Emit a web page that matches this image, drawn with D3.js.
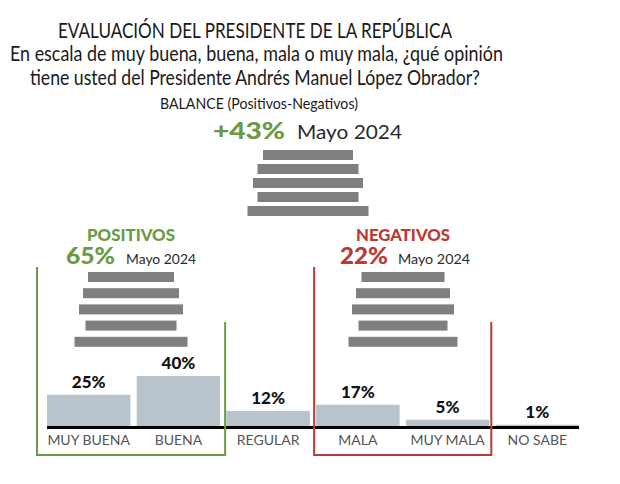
<!DOCTYPE html>
<html><head><meta charset="utf-8">
<script src="https://cdn.jsdelivr.net/npm/d3@7"></script>
<style>body{margin:0;background:#fff}svg{display:block}text{font-family:Lato,"Noto Sans",sans-serif}</style>
</head><body><div id="chart"></div>
<script>
const categories = ["MUY BUENA","BUENA","REGULAR","MALA","MUY MALA","NO SABE"];
const values = [25,40,12,17,5,1];
const valueLabels = ["25%","40%","12%","17%","5%","1%"];
const titleLines = ["EVALUACIÓN DEL PRESIDENTE DE LA REPÚBLICA",
  "En escala de muy buena, buena, mala o muy mala, ¿qué opinión",
  "tiene usted del Presidente Andrés Manuel López Obrador?"];
const balanceTitle = "BALANCE (Positivos-Negativos)";
const period = "Mayo 2024";
const balance = "+43%", positives = "65%", negatives = "22%";

const W=620,H=484;
const green="#6a9a44", red="#bb3a32", barCol="#b9c3cc", stairCol="#7f7f7f";
const svg=d3.select("#chart").append("svg").attr("width",W).attr("height",H);

// Titles
const tl=[{t:titleLines[0],y:38,x:255,len:394,s:21},{t:titleLines[1],y:61,x:256.5,len:493,s:21},{t:titleLines[2],y:85,x:255,len:450,s:21}];
tl.forEach(d=>svg.append("text").attr("x",d.x).attr("y",d.y).attr("text-anchor","middle")
  .attr("font-size",d.s).attr("fill","#1a1a1a").attr("textLength",d.len).attr("lengthAdjust","spacingAndGlyphs").text(d.t));
svg.append("text").attr("x",259).attr("y",109).attr("text-anchor","middle").attr("font-size",15)
  .attr("fill","#1a1a1a").attr("textLength",198).attr("lengthAdjust","spacingAndGlyphs").text(balanceTitle);

// headline numbers
function headline(x,y,num,numLen,size,col,px,pLen,pSize){
  svg.append("text").attr("x",x).attr("y",y).attr("font-size",size).attr("font-weight",900).attr("fill",col)
    .attr("textLength",numLen).attr("lengthAdjust","spacingAndGlyphs").text(num);
  svg.append("text").attr("x",px).attr("y",y).attr("font-size",pSize).attr("fill","#2a2a2a")
    .attr("textLength",pLen).attr("lengthAdjust","spacingAndGlyphs").text(period);
}
headline(213,139,balance,72,22,green,297,105,20);
headline(66,264,positives,49,22,green,126,70,14);
headline(340,264,negatives,48,22,red,398,72,14);

svg.append("text").attr("x",131).attr("y",241).attr("text-anchor","middle").attr("font-size",16).attr("font-weight",900)
  .attr("fill",green).attr("textLength",88).attr("lengthAdjust","spacingAndGlyphs").text("POSITIVOS");
svg.append("text").attr("x",403).attr("y",241).attr("text-anchor","middle").attr("font-size",16).attr("font-weight",900)
  .attr("fill",red).attr("textLength",94).attr("lengthAdjust","spacingAndGlyphs").text("NEGATIVOS");

// stair pictograms (decorative)
function stairs(cx,top,step,widths){
  svg.append("g").selectAll("rect").data(widths).join("rect")
    .attr("x",w=>cx-w/2).attr("y",(w,i)=>top+i*step).attr("width",w=>w).attr("height",10).attr("fill",stairCol);
}
stairs(308,150,14,[90,101,110,101,121]);
stairs(131,272,16.2,[86,96,104,91,113]);
stairs(403,272,16.2,[83,94,102,89,109]);

// bars
const x=d3.scaleBand().domain(categories).range([47,579]).paddingInner(0.07).paddingOuter(0);
const base=426;
const y=d3.scaleLinear().domain([0,40]).range([base,base-50]);
const bw=x.bandwidth();
svg.append("g").selectAll("rect").data(values).join("rect")
  .attr("x",(v,i)=>x(categories[i])).attr("y",v=>y(v)).attr("width",bw).attr("height",v=>base-y(v)).attr("fill",barCol);
svg.append("g").selectAll("text").data(values).join("text")
  .attr("x",(v,i)=>x(categories[i])+bw/2).attr("y",v=>y(v)-7).attr("text-anchor","middle")
  .attr("font-size",17).attr("font-weight",900).attr("fill","#111").text((v,i)=>valueLabels[i]);
svg.append("line").attr("x1",47).attr("x2",579).attr("y1",base+1.5).attr("y2",base+1.5).attr("stroke","#000").attr("stroke-width",3);
svg.append("g").selectAll("text").data(categories).join("text")
  .attr("x",d=>x(d)+bw/2).attr("y",445).attr("text-anchor","middle").attr("font-size",14).attr("fill","#555").text(d=>d);

// group boxes
function box(c1,c2,col,lo,ro){
  const l=x(c1)-lo, r=x(c2)+bw+ro;
  svg.append("path").attr("d",`M${l},267V455H${r}V322`).attr("fill","none").attr("stroke",col).attr("stroke-width",2);
}
box("MUY BUENA","BUENA",green,10,5);
box("MALA","MUY MALA",red,2,2);
</script></body></html>
